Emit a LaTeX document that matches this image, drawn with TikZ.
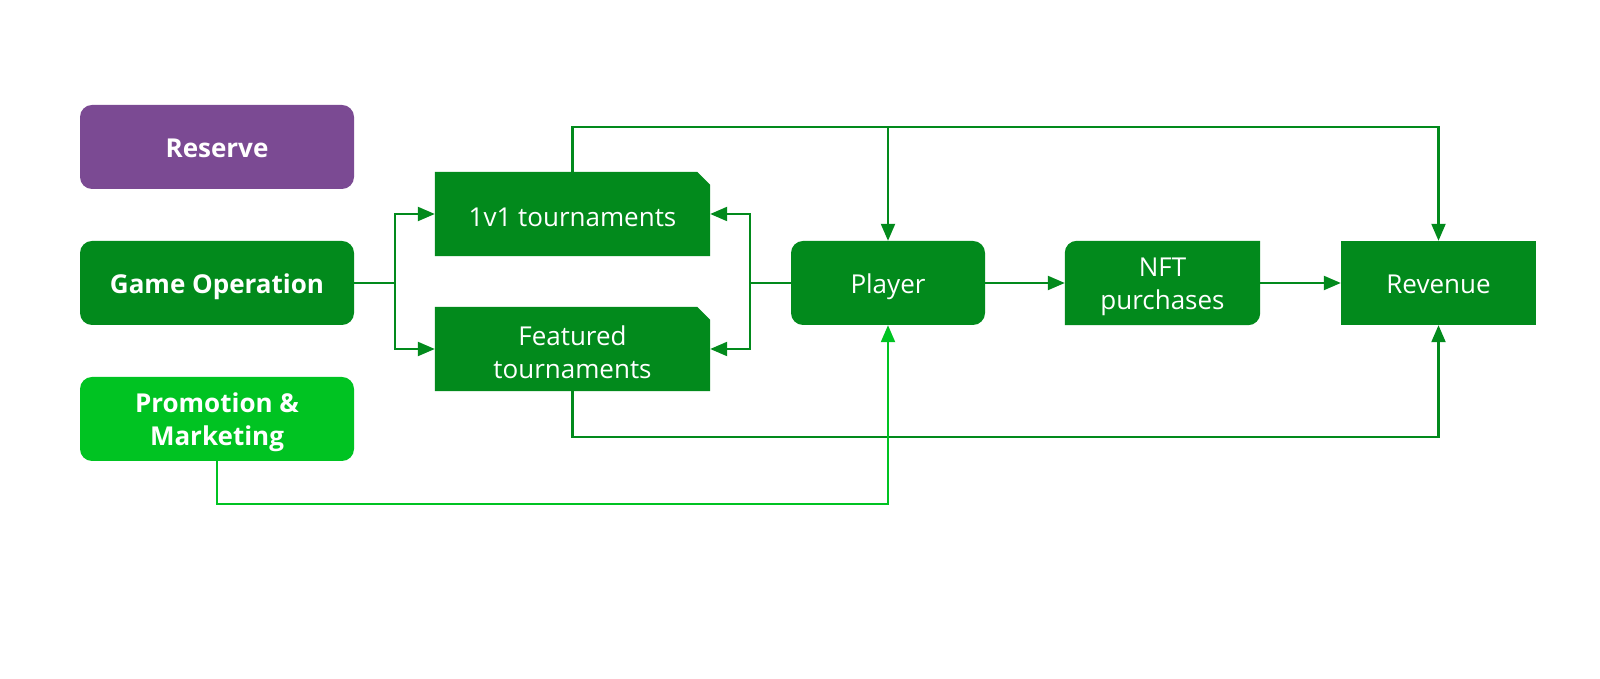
\documentclass[tikz,border=0pt]{standalone}
\usepackage{fontspec}
\setmainfont{Open Sans}
\usetikzlibrary{arrows.meta,backgrounds}
\definecolor{dkgreen}{HTML}{028A1C}
\definecolor{ltgreen}{HTML}{00C322}
\definecolor{resv}{HTML}{7B4A93}
\newcommand{\boxlbl}[2][-3.5pt]{\raisebox{#1}[\height][\depth]{\begin{tabular}{@{}c@{}}#2\end{tabular}}}
\begin{document}
\begin{tikzpicture}[x=1pt,y=1pt,
  boxtext/.style={text=white,font=\fontsize{26}{33}\selectfont,inner sep=0pt},
  leftbox/.style={boxtext,font=\fontsize{26}{33}\selectfont\bfseries,minimum width=274pt,minimum height=84pt,rounded corners=12pt},
  midbox/.style={boxtext,minimum width=275pt,minimum height=84pt},
  rightbox/.style={boxtext,minimum width=195pt,minimum height=84pt},
  conn/.style={draw=dkgreen,line width=2.2pt,-{Triangle[length=17pt,width=14pt]}},
  lconn/.style={draw=ltgreen,line width=2.2pt,-{Triangle[length=17pt,width=14pt]}}]
\useasboundingbox (0,0) rectangle (1600,679);

\node[leftbox,fill=resv] (res) at (217,532) {\boxlbl{Reserve}};
\node[leftbox,fill=dkgreen] (go) at (217,396) {\boxlbl{Game Operation}};
\node[leftbox,fill=ltgreen] (pm) at (217,260) {\boxlbl{Promotion \&\\Marketing}};

\node[midbox] (t1) at (572.5,465) {\boxlbl[-6pt]{1v1 tournaments}};
\node[midbox] (ft) at (572.5,330) {\boxlbl[-6.5pt]{Featured\\tournaments}};
\node[rightbox,fill=dkgreen,rounded corners=12pt,minimum width=194pt] (pl) at (888,396) {\boxlbl{Player}};
\node[rightbox] (nft) at (1162.5,396) {\boxlbl{NFT\\purchases}};
\node[rightbox,fill=dkgreen] (rev) at (1438.5,396) {\boxlbl{Revenue}};

\begin{scope}[on background layer]
\fill[white] (0,0) rectangle (1600,679);
\fill[dkgreen] (t1.south west) -- (t1.north west) -- ([xshift=-13pt]t1.north east) -- ([yshift=-13pt]t1.north east) -- (t1.south east) -- cycle;
\fill[dkgreen] (ft.south west) -- (ft.north west) -- ([xshift=-13pt]ft.north east) -- ([yshift=-13pt]ft.north east) -- (ft.south east) -- cycle;
\fill[dkgreen] (nft.south west) -- ([yshift=-12pt]nft.north west) arc[start angle=180,end angle=90,radius=12pt] -- (nft.north east) -- ([yshift=12pt]nft.south east) arc[start angle=0,end angle=-90,radius=12pt] -- cycle;
\end{scope}

\coordinate (topy) at (0,552);
\coordinate (boty) at (0,242);
\coordinate (promy) at (0,175);

\draw[conn] (go.east) -- ++(41,0) |- (t1.west);
\draw[conn] (go.east) -- ++(41,0) |- (ft.west);
\draw[conn] (pl.west) -- ++(-41,0) |- (t1.east);
\draw[conn] (pl.west) -- ++(-41,0) |- (ft.east);
\draw[conn] (t1.north) -- (t1.north |- topy) -| (rev.north);
\draw[conn] (pl.north |- topy) -- (pl.north);
\draw[conn] (ft.south) -- (ft.south |- boty) -| (rev.south);
\draw[lconn] (pm.south) -- (pm.south |- promy) -| (pl.south);
\draw[conn] (pl.east) -- (nft.west);
\draw[conn] (nft.east) -- (rev.west);
\end{tikzpicture}
\end{document}
